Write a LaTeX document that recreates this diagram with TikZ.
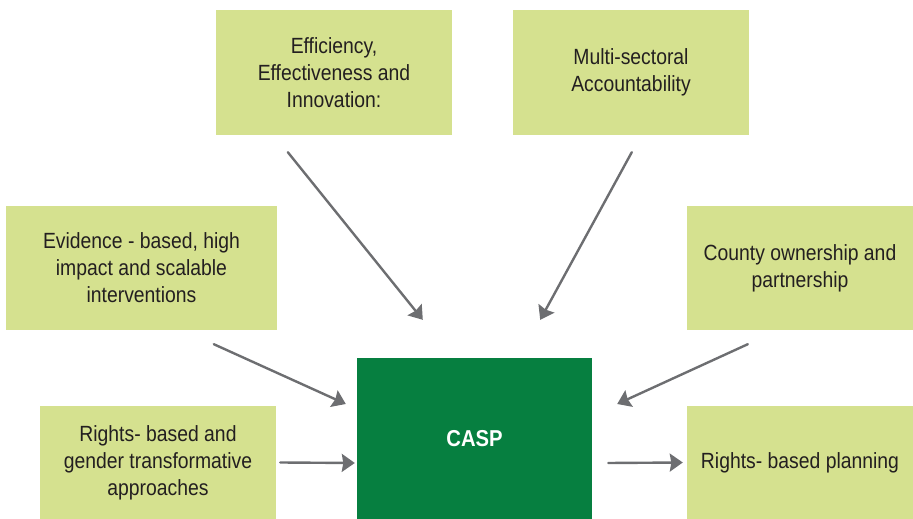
\documentclass[tikz,border=0pt]{standalone}
\usepackage{fontspec}
\setmainfont{Liberation Sans}[FakeStretch=0.88]
\usepackage{tikz}
\usetikzlibrary{arrows.meta}
\definecolor{boxColor}{RGB}{213,225,143}
\definecolor{caspColor}{RGB}{6,127,64}
\definecolor{penColor}{RGB}{109,110,113}
\definecolor{textColor}{RGB}{35,31,32}
\tikzset{>={Stealth[length=13pt,width=18pt,inset=1.5pt]},
  factor/.style={fill=boxColor,text=textColor,align=center,inner sep=0pt,
    font=\fontsize{22}{27}\selectfont},
  push/.style={penColor,line width=2.4pt,->}}

\begin{document}
\begin{tikzpicture}[x=1pt,y=1pt,line cap=round]
\useasboundingbox (0,0) rectangle (913,519);

  % top row
  \node [factor,minimum width=236pt,minimum height=125pt] (eff) at (334,446.5)
    {Efficiency,\\Effectiveness and\\Innovation:};
  \node [factor,minimum width=236pt,minimum height=125pt] (multi) at (631,446.5)
    {Multi-sectoral\\Accountability};

  % middle row
  \node [factor,minimum width=271pt,minimum height=124pt] (evid) at (141.5,251)
    {Evidence - based, high\\impact and scalable\\interventions};
  \node [factor,minimum width=226pt,minimum height=124pt] (county) at (800,251)
    {County ownership and\\partnership};

  % bottom row
  \node [factor,minimum width=236pt,minimum height=113pt] (rights) at (158,56.5)
    {Rights- based and\\gender transformative\\approaches};
  \node [fill=caspColor,text=white,minimum width=235pt,minimum height=161pt,
    font=\fontsize{23}{27}\selectfont\bfseries] (casp) at (474.5,80.5) {CASP};
  \node [factor,minimum width=226pt,minimum height=113pt] (plan) at (800,56.5)
    {Rights- based planning};


  \draw [push] ([xshift=72pt,yshift=-17pt]eff.south west) -- ([xshift=66pt,yshift=38pt]casp.north west);
  \draw [push] ([xshift=119pt,yshift=-17pt]multi.south west) -- ([xshift=-52pt,yshift=38pt]casp.north east);

  \draw [push] ([xshift=208pt,yshift=-14pt]evid.south west) -- ([xshift=-11pt,yshift=34.5pt]casp.west);
  \draw [push] ([xshift=61pt,yshift=-14pt]county.south west) -- ([xshift=25pt,yshift=34.5pt]casp.east);

  \draw [push] ([xshift=4pt]rights.east) -- ([xshift=-2pt,yshift=-24.5pt]casp.west);
  \draw [push] ([xshift=16pt,yshift=-24.5pt]casp.east) -- ([xshift=-4pt]plan.west);

\end{tikzpicture}
\end{document}
